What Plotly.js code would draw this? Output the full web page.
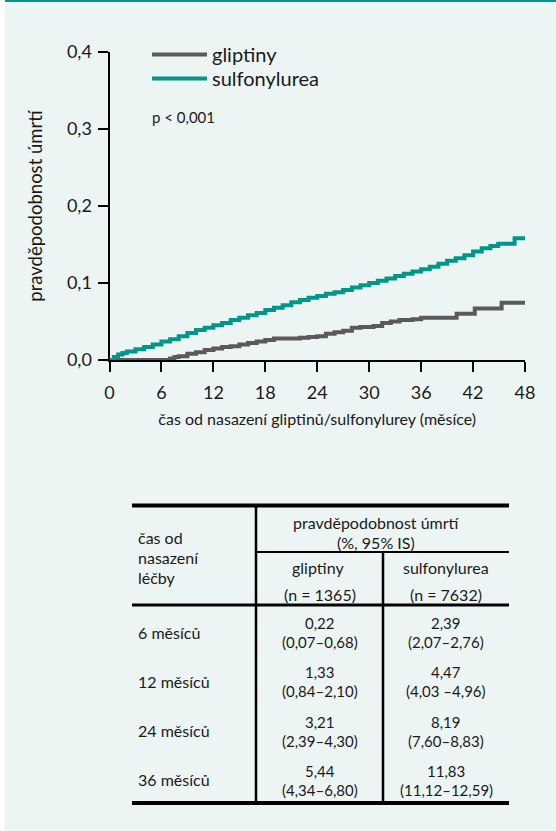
<!DOCTYPE html>
<html>
<head>
<meta charset="utf-8">
<script src="https://cdn.plot.ly/plotly-3.0.1.min.js"></script>
<style>
  html, body { margin: 0; padding: 0; background: #ffffff; }
  #bg { position: absolute; left: 5px; top: 0; width: 551px; height: 829px; background: #ecf5f3; border-top: 2px solid #009688; }
  #chart { position: absolute; left: 0; top: 0; width: 556px; height: 831px; }
</style>
</head>
<body>
<div id="bg"></div>
<div id="chart"></div>
<script>
// ---- chart data ----
const seriesNames = ['gliptiny', 'sulfonylurea'];
const glipMonths = [0, 6.5, 7, 7.5, 8, 9, 10, 11, 12, 13, 14, 15, 16, 17, 18, 19, 21, 22, 23, 24, 25, 26, 27, 28, 29, 30, 30.5, 31.5, 32.5, 33.5, 35, 36, 40, 40.1, 41.8, 42.2, 45.2, 45.3, 48];
const glipProb   = [0, 0, 0.002, 0.004, 0.005, 0.008, 0.010, 0.013, 0.015, 0.017, 0.018, 0.020, 0.022, 0.024, 0.026, 0.028, 0.028, 0.029, 0.030, 0.031, 0.034, 0.036, 0.038, 0.042, 0.043, 0.043, 0.044, 0.048, 0.050, 0.052, 0.053, 0.055, 0.055, 0.060, 0.060, 0.067, 0.067, 0.0745, 0.0745];
const sulfMonths = [0, 0.5, 1, 1.5, 2, 3, 4, 5, 6, 7, 8, 9, 10, 11, 12, 13, 14, 15, 16, 17, 18, 19, 20, 21, 22, 23, 24, 25, 26, 27, 28, 29, 30, 31, 32, 33, 34, 35, 36, 37, 38, 39, 40, 41, 42, 43, 44, 44.9, 46.8, 48];
const sulfProb   = [0, 0.004, 0.007, 0.009, 0.011, 0.014, 0.017, 0.020, 0.024, 0.027, 0.031, 0.035, 0.039, 0.042, 0.045, 0.048, 0.052, 0.055, 0.058, 0.061, 0.065, 0.068, 0.071, 0.075, 0.078, 0.081, 0.083, 0.086, 0.088, 0.091, 0.094, 0.097, 0.100, 0.103, 0.106, 0.109, 0.112, 0.115, 0.118, 0.121, 0.125, 0.129, 0.132, 0.136, 0.141, 0.145, 0.148, 0.151, 0.158, 0.158];
const xTickVals = [0, 6, 12, 18, 24, 30, 36, 42, 48];
const xTickText = ['0', '6', '12', '18', '24', '30', '36', '42', '48'];
const yTickVals = [0, 0.1, 0.2, 0.3, 0.4];
const yTickText = ['0,0', '0,1', '0,2', '0,3', '0,4'];
const pValueText = 'p < 0,001';
const xTitle = 'čas od nasazení gliptinů/sulfonylurey (měsíce)';
const yTitle = 'pravděpodobnost úmrtí';

// ---- table data ----
const tableHeadTime = ['čas od', 'nasazení', 'léčby'];
const tableHeadProb = ['pravděpodobnost úmrtí', '(%, 95% IS)'];
const tableGroups = ['gliptiny', 'sulfonylurea'];
const tableGroupN = ['(n = 1365)', '(n = 7632)'];
const rowLabels = ['6 měsíců', '12 měsíců', '24 měsíců', '36 měsíců'];
const glipEst = ['0,22', '1,33', '3,21', '5,44'];
const glipCI  = ['(0,07–0,68)', '(0,84–2,10)', '(2,39–4,30)', '(4,34–6,80)'];
const sulfEst = ['2,39', '4,47', '8,19', '11,83'];
const sulfCI  = ['(2,07–2,76)', '(4,03 –4,96)', '(7,60–8,83)', '(11,12–12,59)'];

// ---- layout helpers (pixel -> paper) ----
const W = 556, H = 831;
const px = x => x / W;
const py = y => 1 - y / H;
const FONT = 'Lato, "Noto Sans", sans-serif';
const INK = '#1a1a1a';

const traces = [
  { x: glipMonths, y: glipProb, name: seriesNames[0], type: 'scatter', mode: 'lines',
    line: { color: '#5a5a5a', width: 4, shape: 'hv' }, cliponaxis: false, legend: 'legend' },
  { x: sulfMonths, y: sulfProb, name: seriesNames[1], type: 'scatter', mode: 'lines',
    line: { color: '#009688', width: 4, shape: 'hv' }, cliponaxis: false, legend: 'legend2' }
];

const annotations = [];
const shapes = [];
function txt(text, x, y, anchor, size) {
  annotations.push({ text: text, xref: 'paper', yref: 'paper', x: px(x), y: py(y),
    xanchor: anchor || 'center', yanchor: 'middle', showarrow: false,
    font: { family: FONT, size: size || 14, color: INK } });
}
function hline(x0, x1, y, w) {
  shapes.push({ type: 'line', xref: 'paper', yref: 'paper', x0: px(x0), x1: px(x1), y0: py(y), y1: py(y),
    line: { color: '#000000', width: w } });
}
function vline(x, y0, y1, w) {
  shapes.push({ type: 'line', xref: 'paper', yref: 'paper', x0: px(x), x1: px(x), y0: py(y0), y1: py(y1),
    line: { color: '#000000', width: w } });
}

// p-value
txt(pValueText, 150, 117, 'left', 15);

// table lines
const TL = 132, TR = 509, C1 = 256, C2 = 383;
hline(TL, TR, 505.5, 4);
hline(C1, TR, 552, 2);
hline(TL, TR, 605, 3);
hline(TL, TR, 803, 4);
vline(C1, 505, 803, 2.5);
vline(C2, 552, 803, 2.5);

// table header text
tableHeadTime.forEach((t, i) => txt(t, 136, 537 + i * 20, 'left', 16));
txt(tableHeadProb[0], 376, 522, 'center', 16);
txt(tableHeadProb[1], 376, 542, 'center', 16);
txt(tableGroups[0], 318, 567, 'center', 16);
txt(tableGroups[1], 446, 567, 'center', 16);
txt(tableGroupN[0], 320, 594, 'center', 16);
txt(tableGroupN[1], 446, 594, 'center', 16);

// table rows
rowLabels.forEach((lab, i) => {
  const yc = 632 + i * 49.3;
  txt(lab, 136, yc, 'left', 16);
  txt(glipEst[i], 320, yc - 9, 'center', 15);
  txt(glipCI[i], 320, yc + 10, 'center', 15);
  txt(sulfEst[i], 446, yc - 9, 'center', 15);
  txt(sulfCI[i], 446, yc + 10, 'center', 15);
});

const legendBase = { x: px(147), xanchor: 'left', yanchor: 'top', bgcolor: 'rgba(0,0,0,0)',
  font: { family: FONT, size: 20, color: INK }, itemwidth: 55 };

const layout = {
  width: W, height: H,
  margin: { l: 0, r: 0, t: 0, b: 0 },
  paper_bgcolor: 'rgba(0,0,0,0)',
  plot_bgcolor: 'rgba(0,0,0,0)',
  font: { family: FONT, color: INK },
  showlegend: true,
  legend: Object.assign({}, legendBase, { y: py(35) }),
  legend2: Object.assign({}, legendBase, { y: py(59) }),
  xaxis: {
    domain: [px(109.5), px(525)], range: [0, 48],
    showline: true, linecolor: '#000', linewidth: 2, mirror: false,
    ticks: 'outside', ticklen: 10, tickwidth: 2, tickcolor: '#000', ticklabelstandoff: 5,
    tickvals: xTickVals, ticktext: xTickText, showgrid: false, zeroline: false,
    tickfont: { family: FONT, size: 18, color: INK }, layer: 'below traces',
    title: { text: xTitle, font: { family: FONT, size: 16, color: INK }, standoff: 12 }
  },
  yaxis: {
    domain: [py(360), py(52)], range: [0, 0.4],
    showline: true, linecolor: '#000', linewidth: 2,
    ticks: 'outside', ticklen: 10, tickwidth: 2, tickcolor: '#000', ticklabelstandoff: 2,
    tickvals: yTickVals, ticktext: yTickText, showgrid: false, zeroline: false,
    tickfont: { family: FONT, size: 18, color: INK }, layer: 'below traces',
    title: { text: yTitle, font: { family: FONT, size: 18.5, color: INK }, standoff: 19 }
  },
  annotations: annotations,
  shapes: shapes
};

Plotly.newPlot('chart', traces, layout, { displayModeBar: false, staticPlot: true });
</script>
</body>
</html>
